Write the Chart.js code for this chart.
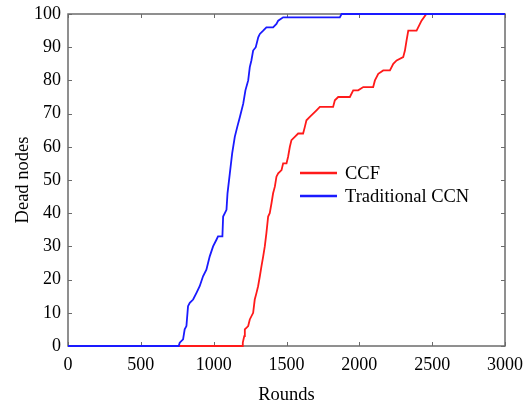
<!DOCTYPE html>
<html>
<head>
<meta charset="utf-8">
<script src="https://cdn.jsdelivr.net/npm/chart.js@4"></script>
<style>
  html, body { margin: 0; padding: 0; background: #fff; }
  #wrap { width: 525px; height: 406px; }
</style>
</head>
<body>
<div id="wrap"><canvas id="myChart" width="525" height="406"></canvas></div>
<script>
// data
const ccfRounds = [0, 1195, 1200, 1210, 1214, 1237, 1248, 1271, 1282, 1294, 1305, 1317, 1328, 1340, 1351, 1362, 1374, 1385, 1397, 1408, 1420, 1431, 1443, 1466, 1477, 1500, 1511, 1523, 1534, 1557, 1580, 1614, 1626, 1637, 1660, 1683, 1706, 1729, 1752, 1820, 1832, 1855, 1935, 1958, 1992, 2027, 2095, 2107, 2130, 2164, 2210, 2233, 2256, 2301, 2313, 2324, 2336, 2393, 2416, 2427, 2460, 3000];
const ccfDead   = [0, 0, 1, 3, 5, 6, 8, 10, 14, 16, 18, 21, 24, 27, 30, 34, 39, 40, 43, 46, 48, 51, 52, 53, 55, 55, 57, 60, 62, 63, 64, 64, 66, 68, 69, 70, 71, 72, 72, 72, 74, 75, 75, 77, 77, 78, 78, 80, 82, 83, 83, 85, 86, 87, 89, 92, 95, 95, 97, 98, 100, 100];

const ccnRounds = [0, 760, 767, 790, 801, 813, 824, 836, 859, 882, 904, 927, 950, 973, 996, 1019, 1030, 1060, 1065, 1088, 1095, 1111, 1127, 1145, 1162, 1180, 1203, 1218, 1237, 1248, 1259, 1271, 1289, 1306, 1317, 1340, 1362, 1408, 1431, 1443, 1477, 1500, 1866, 1878, 3000];
const ccnDead   = [0, 0, 1, 2, 5, 6, 12, 13, 14, 16, 18, 21, 23, 27, 30, 32, 33, 33, 39, 41, 46, 52, 58, 63, 66, 69, 73, 77, 80, 84, 86, 89, 90, 93, 94, 95, 96, 96, 97, 98, 99, 99, 99, 100, 100];

const xTicks = [0, 500, 1000, 1500, 2000, 2500, 3000];
const yTicks = [0, 10, 20, 30, 40, 50, 60, 70, 80, 90, 100];

const seriesNames = ['CCF', 'Traditional CCN'];

function toPoints(xs, ys) {
  return xs.map((x, i) => ({ x: x, y: ys[i] }));
}

const FONT = 'Liberation Serif, Times New Roman, serif';
const FRAME = '#6b6b6b';

// frame box + inward tick marks on all four sides
const framePlugin = {
  id: 'frame',
  beforeDatasetsDraw(chart) {
    const { ctx, chartArea: a, scales } = chart;
    ctx.save();
    ctx.strokeStyle = FRAME;
    ctx.lineWidth = 1.5;
    ctx.strokeRect(a.left, a.top, a.right - a.left, a.bottom - a.top);
    ctx.lineWidth = 1;
    const len = 4;
    xTicks.forEach(v => {
      const px = Math.round(scales.x.getPixelForValue(v)) + 0.5;
      ctx.beginPath();
      ctx.moveTo(px, a.bottom); ctx.lineTo(px, a.bottom - len);
      ctx.moveTo(px, a.top); ctx.lineTo(px, a.top + len);
      ctx.stroke();
    });
    yTicks.forEach(v => {
      const py = Math.round(scales.y.getPixelForValue(v)) + 0.5;
      ctx.beginPath();
      ctx.moveTo(a.left, py); ctx.lineTo(a.left + len, py);
      ctx.moveTo(a.right, py); ctx.lineTo(a.right - len, py);
      ctx.stroke();
    });
    ctx.restore();
  },
  afterDraw(chart) {
    // legend inside the plot
    const { ctx } = chart;
    const ds = chart.data.datasets;
    const rows = [{ i: 0, y: 173 }, { i: 1, y: 196 }];
    ctx.save();
    ctx.font = '18.5px ' + FONT;
    ctx.textBaseline = 'middle';
    ctx.fillStyle = '#000';
    rows.forEach(r => {
      ctx.strokeStyle = ds[r.i].borderColor;
      ctx.lineWidth = 2.5;
      ctx.beginPath();
      ctx.moveTo(300, r.y); ctx.lineTo(337, r.y);
      ctx.stroke();
      ctx.fillText(ds[r.i].label, 345, r.y + 1);
    });
    ctx.restore();
  }
};

const chartData = {
  datasets: [
    {
      label: seriesNames[0],
      data: toPoints(ccfRounds, ccfDead),
      borderColor: '#ff1a1a',
      borderWidth: 1.8,
      pointRadius: 0,
      tension: 0,
      order: 1
    },
    {
      label: seriesNames[1],
      data: toPoints(ccnRounds, ccnDead),
      borderColor: '#1a1aff',
      borderWidth: 1.8,
      pointRadius: 0,
      tension: 0,
      order: 0
    }
  ]
};

const chartConfig = {
  type: 'line',
  data: chartData,
  plugins: [framePlugin],
  options: {
    responsive: false,
    animation: false,
    clip: false,
    layout: { padding: { top: 14, right: 20, left: 12, bottom: 0 } },
    plugins: { legend: { display: false }, tooltip: { enabled: false } },
    scales: {
      x: {
        type: 'linear',
        min: 0, max: 3000,
        afterBuildTicks: s => { s.ticks = xTicks.map(v => ({ value: v })); },
        afterFit: s => { s.height = 60; s.paddingLeft = 0; s.paddingRight = 0; },
        grid: { display: false, drawTicks: false },
        border: { display: false },
        ticks: { color: '#000', font: { family: FONT, size: 18 }, padding: 8, maxRotation: 0,
                 callback: v => String(v) },
        title: { display: true, text: 'Rounds', color: '#000', font: { family: FONT, size: 18.5 }, padding: { top: 0, bottom: 0 } }
      },
      y: {
        min: 0, max: 100,
        afterBuildTicks: s => { s.ticks = yTicks.map(v => ({ value: v })); },
        afterFit: s => { s.width = 56; s.paddingTop = 0; s.paddingBottom = 0; },
        grid: { display: false, drawTicks: false },
        border: { display: false },
        ticks: { color: '#000', font: { family: FONT, size: 18 }, padding: 7,
                 callback: v => String(v) },
        title: { display: true, text: 'Dead nodes', color: '#000', font: { family: FONT, size: 18.5 }, padding: { top: 0, bottom: 4 } }
      }
    }
  }
};

const myChart = new Chart(document.getElementById('myChart'), chartConfig);
</script>
</body>
</html>
